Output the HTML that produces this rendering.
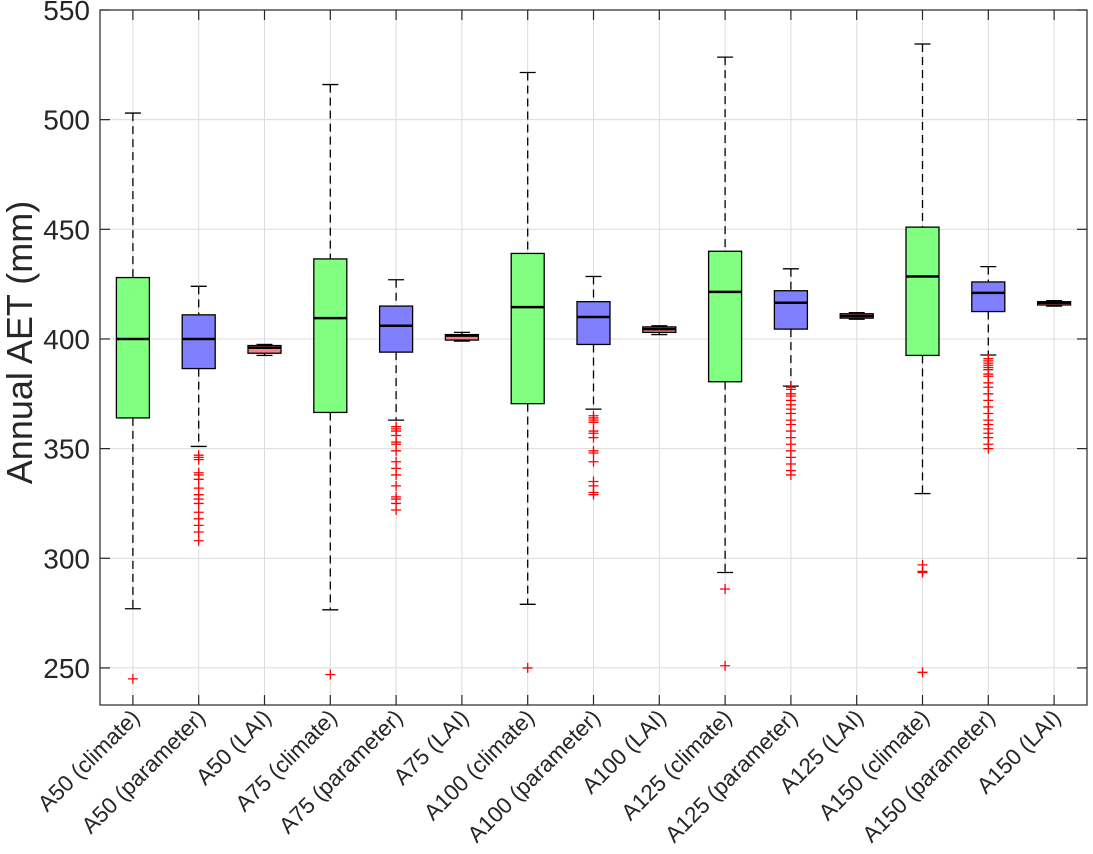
<!DOCTYPE html>
<html><head><meta charset="utf-8"><style>
body{margin:0;background:#fff;}
svg{display:block;font-family:"Liberation Sans",Arial,sans-serif;}
</style></head><body>
<svg id="chart" width="1093" height="854" viewBox="0 0 1093 854"></svg>
<script>
const categories=["A50 (climate)","A50 (parameter)","A50 (LAI)","A75 (climate)","A75 (parameter)","A75 (LAI)","A100 (climate)","A100 (parameter)","A100 (LAI)","A125 (climate)","A125 (parameter)","A125 (LAI)","A150 (climate)","A150 (parameter)","A150 (LAI)"];
const whiskerHigh=[503,424,397.5,516,427,403,521.5,428.5,406,528.5,432,412,534.5,433,417.5];
const q3=[428,411,397,436.5,415,402,439,417,405.5,440,422,411.5,451,426,417];
const median=[400,400,396,409.5,406,401.5,414.5,410,404.5,421.5,416.5,410.5,428.5,421,416.5];
const q1=[364,386.5,393.5,366.5,394,399.5,370.5,397.5,403,380.5,404.5,409.5,392.5,412.5,415.5];
const whiskerLow=[277,351,392.5,276.5,363,399,279,368,402,293.5,378.5,409,329.5,392.7,415];
const outliers=[[245],[347,346,345,339,338,336,332,329,327,325,321,318,315,312,308],[],[247],[360,359,358,356,353,352,349,344,341,338,333,328,327,325,322],[],[250],[365,364,363,362,358,357,355,349,348,344,335,333,330,329],[],[286,251],[378,377,375,374,372,370,368,366,363,361,358,355,352,349,346,343,340,338],[],[297,294,293.5,248],[391,390,389,388,387,386,384,383,380,378,375,372,369,366,363,361,359,357,355,352,350],[]];
const yTicks=[250,300,350,400,450,500,550];
const colors=["#80ff80","#8080ff","#ff8080"];

const NS="http://www.w3.org/2000/svg";
const svg=document.getElementById("chart");
const L=100,R=1087,T=10,B=705,yMin=233.1,yMax=550;
const y=v=>B-(v-yMin)/(yMax-yMin)*(B-T);
const x=i=>L+(i+0.5)*(R-L)/categories.length;
function mk(tag,attrs,parent){const e=document.createElementNS(NS,tag);for(const k in attrs)e.setAttribute(k,attrs[k]);(parent||svg).appendChild(e);return e;}

const grid=mk("g",{});


yTicks.forEach(t=>{mk("line",{x1:L,x2:R,y1:y(t),y2:y(t),stroke:"#dcdcdc","stroke-width":1},grid);});
categories.forEach((c,i)=>{mk("line",{x1:x(i),x2:x(i),y1:T,y2:B,stroke:"#dcdcdc","stroke-width":1},grid);});

const hw=16.5;
categories.forEach((c,i)=>{
  const g=mk("g",{});
  
  
  const cx=x(i);
  mk("line",{x1:cx,x2:cx,y1:y(whiskerHigh[i]),y2:y(q3[i]),stroke:"#000","stroke-width":1.3,"stroke-dasharray":"8,5"},g);
  mk("line",{x1:cx,x2:cx,y1:y(q1[i]),y2:y(whiskerLow[i]),stroke:"#000","stroke-width":1.3,"stroke-dasharray":"8,5"},g);
  mk("line",{x1:cx-8,x2:cx+8,y1:y(whiskerHigh[i]),y2:y(whiskerHigh[i]),stroke:"#000","stroke-width":1.3},g);
  mk("line",{x1:cx-8,x2:cx+8,y1:y(whiskerLow[i]),y2:y(whiskerLow[i]),stroke:"#000","stroke-width":1.3},g);
  mk("rect",{x:cx-hw,y:y(q3[i]),width:2*hw,height:Math.max(1,y(q1[i])-y(q3[i])),fill:colors[i%3],stroke:"#000","stroke-width":1.3},g);
  mk("line",{x1:cx-hw,x2:cx+hw,y1:y(median[i]),y2:y(median[i]),stroke:"#000","stroke-width":2.5},g);
  outliers[i].forEach(o=>{
    const p=mk("path",{d:`M${cx-5},${y(o)}h10M${cx},${y(o)-5}v10`,stroke:"#f00","stroke-width":1.3,fill:"none"},g);
    
    
  });
});

const ax=mk("g",{});


mk("rect",{x:L,y:T,width:R-L,height:B-T,fill:"none",stroke:"#262626","stroke-width":1.2},ax);
yTicks.forEach(t=>{
  mk("line",{x1:L,x2:L+10,y1:y(t),y2:y(t),stroke:"#262626","stroke-width":1.2},ax);
  mk("line",{x1:R-10,x2:R,y1:y(t),y2:y(t),stroke:"#262626","stroke-width":1.2},ax);
  const tx=mk("text",{x:L-10,y:y(t)+10,"text-anchor":"end","font-size":28,fill:"#262626"},ax);
  tx.textContent=t;
  
  
});
categories.forEach((c,i)=>{
  mk("line",{x1:x(i),x2:x(i),y1:B,y2:B-10,stroke:"#262626","stroke-width":1.2},ax);
  mk("line",{x1:x(i),x2:x(i),y1:T,y2:T+10,stroke:"#262626","stroke-width":1.2},ax);
  const tx=mk("text",{x:0,y:0,"text-anchor":"end","font-size":22.5,fill:"#262626",transform:`translate(${x(i)+8},${B+14}) rotate(-45)`},ax);
  tx.textContent=c;
  
  
});
const yt=mk("text",{x:0,y:0,"text-anchor":"middle","font-size":36,fill:"#262626",transform:`translate(32,${(T+B)/2-15}) rotate(-90)`});
yt.textContent="Annual AET (mm)";


</script>
</body></html>
